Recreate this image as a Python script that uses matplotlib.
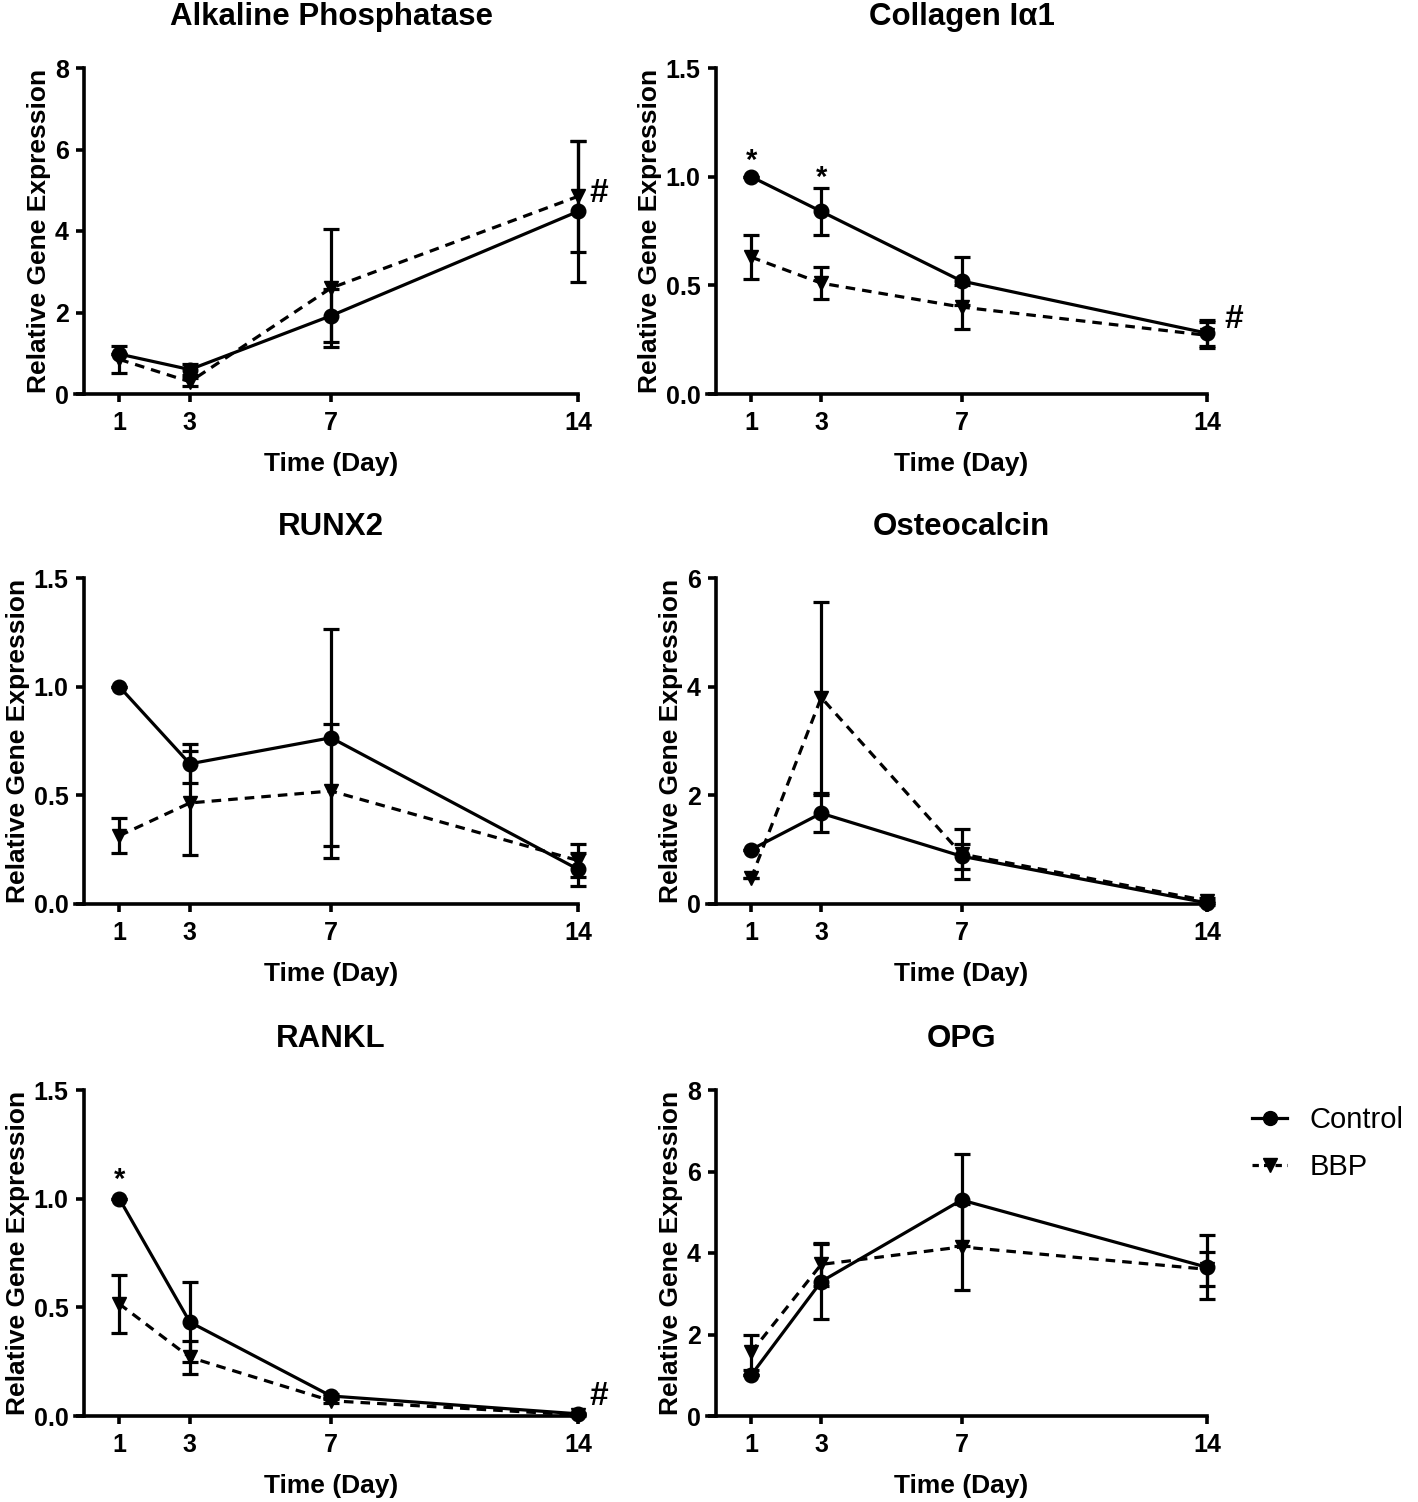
import numpy as np
import matplotlib.pyplot as plt
from matplotlib.lines import Line2D

days = [1, 3, 7, 14]

titles = ['Alkaline Phosphatase', 'Collagen I\u03b11', 'RUNX2',
          'Osteocalcin', 'RANKL', 'OPG']
ymax = [8, 1.5, 1.5, 6, 1.5, 8]
ystep = [2, 0.5, 0.5, 2, 0.5, 2]

# mean / error (SEM) per gene
ctrl_mean = [[0.98, 0.6, 1.92, 4.48],
             [1.0, 0.84, 0.52, 0.28],
             [1.0, 0.645, 0.765, 0.16],
             [1.0, 1.67, 0.88, 0.02],
             [1.0, 0.432, 0.092, 0.01],
             [1.0, 3.3, 5.3, 3.65]]
ctrl_err = [[0.0, 0.14, 0.65, 1.72],
            [0.0, 0.107, 0.11, 0.06],
            [0.0, 0.09, 0.5, 0.075],
            [0.0, 0.34, 0.23, 0.03],
            [0.0, 0.185, 0.01, 0.005],
            [0.0, 0.93, 1.12, 0.79]]
bbp_mean = [[0.85, 0.3, 2.6, 4.85],
            [0.63, 0.51, 0.40, 0.27],
            [0.314, 0.465, 0.52, 0.2],
            [0.47, 3.8, 0.92, 0.06],
            [0.516, 0.27, 0.07, 0.005],
            [1.56, 3.72, 4.15, 3.6]]
bbp_err = [[0.33, 0.1, 1.45, 1.37],
           [0.1, 0.075, 0.1, 0.06],
           [0.08, 0.24, 0.31, 0.075],
           [0.0, 1.75, 0.46, 0.05],
           [0.135, 0.075, 0.01, 0.005],
           [0.43, 0.52, 1.05, 0.42]]

# significance marks: (panel, day, value, text)
marks = [(1, 1, 1.01, '*'), (1, 3, 0.93, '*'), (4, 1, 1.02, '*'),
         (0, 14.6, 4.93, '#'), (1, 14.75, 0.345, '#'), (4, 14.6, 0.092, '#')]

plt.rcParams['font.family'] = ['Liberation Sans', 'DejaVu Sans']

fig = plt.figure(figsize=(14.18, 15.02), dpi=100)

W, H = 1418, 1502
lefts = [84, 716]
widths = [494, 491]
tops = [68, 578, 1090]
ph = 326

axs = []
for i in range(6):
    r, c = divmod(i, 2)
    ax = fig.add_axes([lefts[c] / W, 1 - (tops[r] + ph) / H,
                       widths[c] / W, ph / H])
    axs.append(ax)

lw = 2.3
for i, ax in enumerate(axs):
    ax.errorbar(days, ctrl_mean[i], yerr=ctrl_err[i], color='black',
                lw=lw, marker='o', ms=10.5, capsize=6, capthick=lw,
                elinewidth=lw, clip_on=False, zorder=3)
    ax.errorbar(days, bbp_mean[i], yerr=bbp_err[i], color='black',
                lw=lw, ls=(0, (3, 2.2)), marker='v', ms=10.5, capsize=6,
                capthick=lw, elinewidth=lw, clip_on=False, zorder=3)
    ax.set_xlim(0, 14)
    ax.set_ylim(0, ymax[i])
    ax.set_xticks(days)
    ax.set_yticks(np.arange(0, ymax[i] + 1e-9, ystep[i]))
    if ystep[i] < 1:
        ax.set_yticklabels(['%.1f' % v for v in ax.get_yticks()])
    for s in ['top', 'right']:
        ax.spines[s].set_visible(False)
    for s in ['left', 'bottom']:
        ax.spines[s].set_linewidth(2.6)
    ax.spines['bottom'].set_bounds(-0.25, 14)
    ax.tick_params(width=2.6, length=6, labelsize=18, pad=5)
    ax.tick_params(axis='x', pad=6.5)
    for lab in ax.get_xticklabels() + ax.get_yticklabels():
        lab.set_fontweight('bold')
    ax.set_title(titles[i], fontsize=22.5, fontweight='bold', pad=31)
    ax.set_xlabel('Time (Day)', fontsize=19, fontweight='bold', labelpad=12)
    ax.set_ylabel('Relative Gene Expression', fontsize=19,
                  fontweight='bold', labelpad=3)

for p, d, v, t in marks:
    axs[p].text(d, v, t, ha='center', va='bottom' if t == '*' else 'center',
                fontsize=21 if t == '*' else 24, fontweight='bold',
                clip_on=False)

handles = [Line2D([], [], color='black', lw=lw, marker='o', ms=10),
           Line2D([], [], color='black', lw=lw, ls=(0, (2, 1.6)),
                  marker='v', ms=10)]
fig.legend(handles, ['Control', 'BBP'], loc='upper left',
           bbox_to_anchor=(1226 / W, 1 - 1080 / H), frameon=False,
           fontsize=21, handlelength=1.2, handletextpad=0.75,
           labelspacing=0.65)

fig.savefig('out.png', dpi=100)
